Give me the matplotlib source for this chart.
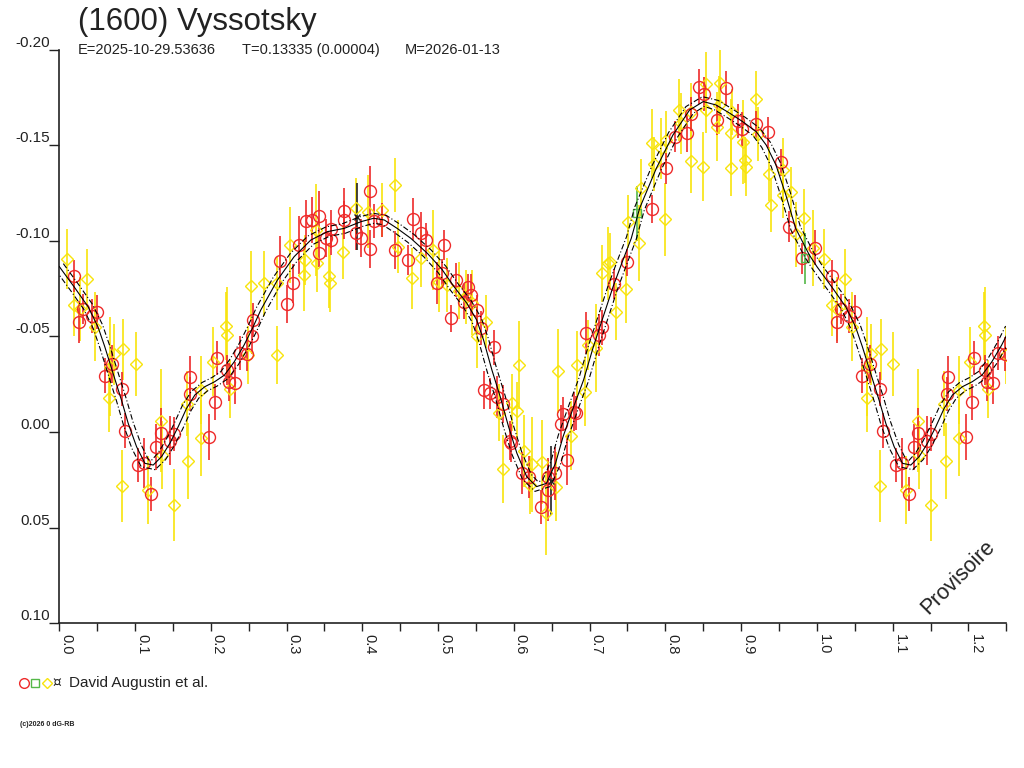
import matplotlib
matplotlib.use('Agg')
import matplotlib.pyplot as plt
import numpy as np
from matplotlib.ticker import MultipleLocator
from matplotlib.lines import Line2D

plt.rcParams['font.family'] = ['Liberation Sans', 'DejaVu Sans']

title = '(1600) Vyssotsky'
sub_epoch = 'E=2025-10-29.53636'
sub_period = 'T=0.13335 (0.00004)'
sub_date = 'M=2026-01-13'
observer = 'David Augustin et al.'
credit = '(c)2026 0 dG-RB'
stamp = 'Provisoire'

x_ticks = [0.0, 0.1, 0.2, 0.3, 0.4, 0.5, 0.6, 0.7, 0.8, 0.9, 1.0, 1.1, 1.2]
x_tick_labels = ['0.0', '0.1', '0.2', '0.3', '0.4', '0.5', '0.6', '0.7', '0.8', '0.9', '1.0', '1.1', '1.2']
y_ticks = [-0.20, -0.15, -0.10, -0.05, 0.00, 0.05, 0.10]
y_tick_labels = ['-0.20', '-0.15', '-0.10', '-0.05', '0.00', '0.05', '0.10']

# fitted lightcurve (phase, relative magnitude)
curve_phase = [0.000, 0.021, 0.038, 0.051, 0.060, 0.071, 0.082, 0.091, 0.102, 0.113,
               0.124, 0.135, 0.146, 0.157, 0.168, 0.179, 0.192, 0.205, 0.218, 0.231,
               0.244, 0.255, 0.266, 0.288, 0.310, 0.332, 0.354, 0.376, 0.398, 0.415,
               0.429, 0.446, 0.464, 0.486, 0.505, 0.521, 0.538, 0.551, 0.560, 0.571,
               0.582, 0.593, 0.604, 0.617, 0.630, 0.643, 0.655, 0.665, 0.679, 0.692,
               0.705, 0.718, 0.731, 0.744, 0.755, 0.766, 0.788, 0.810, 0.832, 0.850,
               0.867, 0.885, 0.902, 0.920, 0.933, 0.946, 0.959, 0.972, 0.990, 1.000]
curve_mag = [-0.0866, -0.0752, -0.0656, -0.0551, -0.0447, -0.0307, -0.0168, -0.0045, 0.0077, 0.0164,
             0.0173, 0.0129, 0.0059, -0.0028, -0.0124, -0.0194, -0.0237, -0.0263, -0.0298, -0.0368,
             -0.0456, -0.0543, -0.0639, -0.0796, -0.0918, -0.1005, -0.1049, -0.1066, -0.1101, -0.1119,
             -0.1110, -0.1066, -0.1014, -0.0935, -0.0852, -0.0761, -0.0674, -0.0586, -0.0482, -0.0325,
             -0.0185, -0.0028, 0.0111, 0.0234, 0.0286, 0.0269, 0.0164, 0.0024, -0.0133, -0.0272,
             -0.0447, -0.0604, -0.0761, -0.0900, -0.1014, -0.1171, -0.1380, -0.1555, -0.1686, -0.1730,
             -0.1712, -0.1669, -0.1625, -0.1572, -0.1503, -0.1398, -0.1241, -0.1066, -0.0927, -0.0866]
band_px = 5  # half width of the uncertainty band, pixels

# observations: (phase, mag, error)
red_points = [
    (0.0197, -0.0817, 0.0083), (0.0316, -0.0644, 0.008), (0.026, -0.0578, 0.011),
    (0.0426, -0.0607, 0.009), (0.050, -0.0628, 0.009), (0.0697, -0.0356, 0.010),
    (0.060, -0.0295, 0.009), (0.0834, -0.0225, 0.009), (0.0873, -0.0007, 0.009),
    (0.104, 0.0173, 0.009), (0.112, 0.0162, 0.013), (0.1216, 0.0325, 0.009),
    (0.128, 0.0077, 0.012), (0.134, 0.0003, 0.013), (0.1457, 0.0045, 0.013),
    (0.151, 0.001, 0.009), (0.173, -0.0288, 0.011), (0.172, -0.0199, 0.009),
    (0.197, 0.0026, 0.012), (0.205, -0.0157, 0.0096), (0.208, -0.0387, 0.009),
    (0.2216, -0.0325, 0.008), (0.2246, -0.0263, 0.010), (0.232, -0.0256, 0.011),
    (0.239, -0.0415, 0.009), (0.248, -0.0408, 0.009), (0.256, -0.0586, 0.009),
    (0.255, -0.050, 0.009), (0.291, -0.0895, 0.013), (0.300, -0.067, 0.010),
    (0.308, -0.0778, 0.010), (0.3167, -0.0979, 0.015), (0.3255, -0.1107, 0.011),
    (0.334, -0.111, 0.012), (0.343, -0.113, 0.013), (0.343, -0.0935, 0.007),
    (0.3518, -0.1016, 0.010), (0.359, -0.1063, 0.010), (0.359, -0.1005, 0.008),
    (0.376, -0.1159, 0.012), (0.376, -0.111, 0.010), (0.3987, -0.1014, 0.010),
    (0.392, -0.1043, 0.009), (0.4097, -0.1262, 0.013), (0.410, -0.0957, 0.010),
    (0.4154, -0.1105, 0.009), (0.4263, -0.111, 0.009), (0.443, -0.0953, 0.010),
    (0.4667, -0.1114, 0.011), (0.4768, -0.104, 0.011), (0.4834, -0.1005, 0.009),
    (0.460, -0.090, 0.008), (0.4987, -0.0778, 0.011), (0.508, -0.098, 0.008),
    (0.505, -0.0834, 0.007), (0.523, -0.0796, 0.009), (0.5395, -0.0758, 0.007),
    (0.5338, -0.0683, 0.009), (0.544, -0.0717, 0.011), (0.517, -0.0595, 0.007),
    (0.5513, -0.0639, 0.008), (0.557, -0.0543, 0.009), (0.574, -0.0443, 0.009),
    (0.561, -0.022, 0.010), (0.568, -0.0203, 0.008), (0.5777, -0.0185, 0.011),
    (0.5855, -0.0147, 0.010), (0.5953, 0.0045, 0.010), (0.5966, 0.0056, 0.010),
    (0.6105, 0.0216, 0.011), (0.620, 0.0237, 0.011), (0.6457, 0.0234, 0.010),
    (0.6457, 0.0304, 0.016), (0.636, 0.0394, 0.009), (0.6545, 0.0216, 0.014),
    (0.6697, 0.0147, 0.013), (0.6623, -0.0042, 0.010), (0.6645, -0.0093, 0.009),
    (0.680, -0.0107, 0.010), (0.682, -0.0098, 0.009), (0.695, -0.0517, 0.011),
    (0.7124, -0.0508, 0.011), (0.716, -0.0548, 0.009), (0.7325, -0.0775, 0.008),
    (0.750, -0.0888, 0.007), (0.7825, -0.1167, 0.0075), (0.8013, -0.138, 0.008),
    (0.8124, -0.1546, 0.008), (0.829, -0.1567, 0.010), (0.834, -0.1664, 0.009),
    (0.845, -0.1808, 0.009), (0.851, -0.177, 0.009), (0.868, -0.1634, 0.008),
    (0.8795, -0.180, 0.009), (0.8957, -0.1628, 0.009), (0.9013, -0.1586, 0.009),
    (0.919, -0.161, 0.007), (0.936, -0.1569, 0.008), (0.953, -0.1411, 0.007),
    (0.9636, -0.1075, 0.008), (0.981, -0.0909, 0.008), (0.998, -0.0965, 0.009),
]

yellow_points = [
    (0.0097, -0.0906, 0.0157), (0.0368, -0.080, 0.016), (0.0193, -0.0665, 0.016),
    (0.027, -0.0644, 0.017), (0.047, -0.0551, 0.018), (0.0842, -0.0434, 0.016),
    (0.072, -0.0408, 0.016), (0.0667, -0.0342, 0.026), (0.101, -0.0356, 0.017),
    (0.0658, -0.0178, 0.018), (0.083, 0.0283, 0.019), (0.117, 0.0304, 0.018),
    (0.134, -0.0058, 0.027), (0.135, 0.012, 0.018), (0.151, 0.0382, 0.019),
    (0.170, 0.0152, 0.020), (0.168, -0.0147, 0.017), (0.187, -0.022, 0.018),
    (0.187, 0.0031, 0.020), (0.2027, -0.0368, 0.018), (0.220, -0.0555, 0.018),
    (0.2216, -0.0508, 0.025), (0.2255, -0.0225, 0.015), (0.2496, -0.0403, 0.015),
    (0.253, -0.0766, 0.018), (0.2707, -0.0778, 0.017), (0.288, -0.0403, 0.015),
    (0.288, -0.0778, 0.014), (0.305, -0.0979, 0.020), (0.3224, -0.0822, 0.019),
    (0.3246, -0.090, 0.013), (0.3386, -0.1058, 0.024), (0.340, -0.0883, 0.015),
    (0.3566, -0.0817, 0.017), (0.3575, -0.0778, 0.015), (0.374, -0.094, 0.014),
    (0.3913, -0.1171, 0.016), (0.408, -0.1154, 0.019), (0.4255, -0.1162, 0.014),
    (0.4426, -0.1293, 0.014), (0.4474, -0.097, 0.014), (0.4658, -0.0805, 0.016),
    (0.4768, -0.091, 0.015), (0.4934, -0.0953, 0.021), (0.501, -0.0787, 0.016),
    (0.512, -0.077, 0.014), (0.528, -0.074, 0.015), (0.537, -0.0708, 0.014),
    (0.5447, -0.0677, 0.017), (0.563, -0.0578, 0.014), (0.5513, -0.0503, 0.017),
    (0.607, -0.035, 0.023), (0.580, -0.0101, 0.015), (0.5975, -0.0153, 0.015),
    (0.604, -0.0111, 0.015), (0.5855, 0.0194, 0.018), (0.614, 0.010, 0.019),
    (0.6237, 0.0169, 0.025), (0.6216, 0.0278, 0.015), (0.6378, 0.0155, 0.022),
    (0.642, 0.0422, 0.022), (0.6558, 0.0286, 0.018), (0.658, -0.0321, 0.022),
    (0.6755, 0.0019, 0.018), (0.694, -0.0211, 0.018), (0.683, -0.035, 0.018),
    (0.698, -0.0455, 0.013), (0.709, -0.0438, 0.023), (0.7347, -0.063, 0.015),
    (0.717, -0.0831, 0.015), (0.7246, -0.0883, 0.019), (0.727, -0.0892, 0.015),
    (0.748, -0.0749, 0.018), (0.751, -0.1101, 0.014), (0.765, -0.0991, 0.020),
    (0.7684, -0.1279, 0.015), (0.7992, -0.1114, 0.019), (0.7825, -0.1511, 0.018),
    (0.785, -0.1402, 0.014), (0.794, -0.1485, 0.016), (0.8013, -0.1529, 0.015),
    (0.8176, -0.1686, 0.016), (0.820, -0.1616, 0.016), (0.834, -0.1677, 0.015),
    (0.8334, -0.1419, 0.017), (0.850, -0.139, 0.018), (0.854, -0.182, 0.017),
    (0.853, -0.1686, 0.012), (0.868, -0.1598, 0.018), (0.8716, -0.1829, 0.020),
    (0.8707, -0.1712, 0.015), (0.887, -0.1384, 0.015), (0.887, -0.1564, 0.018),
    (0.888, -0.1674, 0.012), (0.903, -0.152, 0.022), (0.9046, -0.1424, 0.012),
    (0.9058, -0.1386, 0.015), (0.9197, -0.1742, 0.015), (0.922, -0.1559, 0.014),
    (0.9374, -0.1351, 0.014), (0.9395, -0.1188, 0.014), (0.955, -0.137, 0.017),
    (0.966, -0.1255, 0.013), (0.955, -0.1241, 0.012), (0.972, -0.1035, 0.017),
    (0.9834, -0.1122, 0.015), (0.9943, -0.0962, 0.020),
]

green_points = [(0.762, -0.1145, 0.0145), (0.9847, -0.0909, 0.0135)]
black_points = [(0.3934, -0.1127, 0.0175), (0.6487, 0.0255, 0.018)]

RED = '#ee2a2a'
YELLOW = '#f8e40c'
GREEN = '#55b848'
DARK = '#222222'


def wrap(points):
    # phases below 0.25 are shown again after phase 1
    pts = np.array(points)
    extra = pts[pts[:, 0] < 0.25].copy()
    extra[:, 0] += 1
    return np.vstack([pts, extra])


fig = plt.figure(figsize=(10.24, 7.68), dpi=100)
ax = fig.add_axes([0.0579, 0.1888, 0.9248, 0.7461])
ax.set_xlim(0, 1.25)
ax.set_ylim(0.10, -0.20)

for pts, col, mk, ms in [(yellow_points, YELLOW, 'D', 6.0),
                         (red_points, RED, 'o', 8.6),
                         (green_points, GREEN, 's', 6.0),
                         (black_points, DARK, 'x', 5.0)]:
    p = wrap(pts)
    ax.errorbar(p[:, 0], p[:, 1], yerr=p[:, 2], fmt=mk, ms=ms, mfc='none',
                mec=col, mew=1.0, ecolor=col, elinewidth=1.2, capsize=0, zorder=2)

# curve with its band
cp = np.array(curve_phase)
cm = np.array(curve_mag)
cp = np.concatenate([cp, cp[1:][cp[1:] <= 0.26] + 1])
cm = np.concatenate([cm, cm[1:len(cp) - len(curve_phase) + 1]])
sx = 0.9248 * 1024 / 1.25
sy = 0.7461 * 768 / 0.30
px, py = cp * sx, cm * sy
tx, ty = np.gradient(px), np.gradient(py)
nrm = np.hypot(tx, ty)
nx, ny = -ty / nrm, tx / nrm
ax.plot(cp, cm, color='black', lw=0.8, zorder=4)
for s in (1, -1):
    ax.plot((px + s * band_px * nx) / sx, (py + s * band_px * ny) / sy,
            color='black', lw=0.8, ls=(0, (5, 2, 1, 2)), zorder=4)

for side in ['top', 'right']:
    ax.spines[side].set_visible(False)
for side in ['left', 'bottom']:
    ax.spines[side].set_color(DARK)
    ax.spines[side].set_linewidth(1.2)

ax.set_xticks(x_ticks)
ax.set_xticklabels(x_tick_labels)
ax.xaxis.set_minor_locator(MultipleLocator(0.05))
ax.tick_params(axis='x', which='both', direction='out', length=6, width=1,
               colors=DARK, pad=2, labelsize=10.5)
for lab in ax.get_xticklabels():
    lab.set_rotation(-90)
    lab.set_ha('left')
    lab.set_va('top')

ax.set_yticks(y_ticks)
ax.set_yticklabels(y_tick_labels)
ax.tick_params(axis='y', direction='out', length=7, width=1, colors=DARK,
               pad=0, labelsize=11)
for lab in ax.get_yticklabels():
    lab.set_va('bottom')

fig.text(78 / 1024, 1 - 30 / 768, title, fontsize=22.5, color=DARK, va='baseline')
fig.text(78 / 1024, 1 - 54 / 768, sub_epoch, fontsize=10.5, color=DARK, va='baseline')
fig.text(242 / 1024, 1 - 54 / 768, sub_period, fontsize=10.5, color=DARK, va='baseline')
fig.text(405 / 1024, 1 - 54 / 768, sub_date, fontsize=10.5, color=DARK, va='baseline')

ly = 1 - 683 / 768
fig.add_artist(Line2D([24 / 1024], [ly], marker='o', ms=7, mfc='none', mec=RED, mew=1))
fig.add_artist(Line2D([35 / 1024], [ly], marker='s', ms=5.5, mfc='none', mec=GREEN, mew=1))
fig.add_artist(Line2D([47 / 1024], [ly], marker='D', ms=5, mfc='none', mec=YELLOW, mew=1))
fig.text(57 / 1024, ly, '\u00a4', fontsize=10, color=DARK, ha='center', va='center',
         family=['DejaVu Sans'])
fig.text(69 / 1024, ly, observer, fontsize=11, color=DARK, va='center')
fig.text(20 / 1024, 1 - 725 / 768, credit, fontsize=5, color=DARK, va='center',
         fontweight='bold')
fig.text(958 / 1024, 1 - 577 / 768, stamp, fontsize=15.5, color=DARK, rotation=45,
         ha='center', va='center')

fig.savefig('out.png', dpi=100)
